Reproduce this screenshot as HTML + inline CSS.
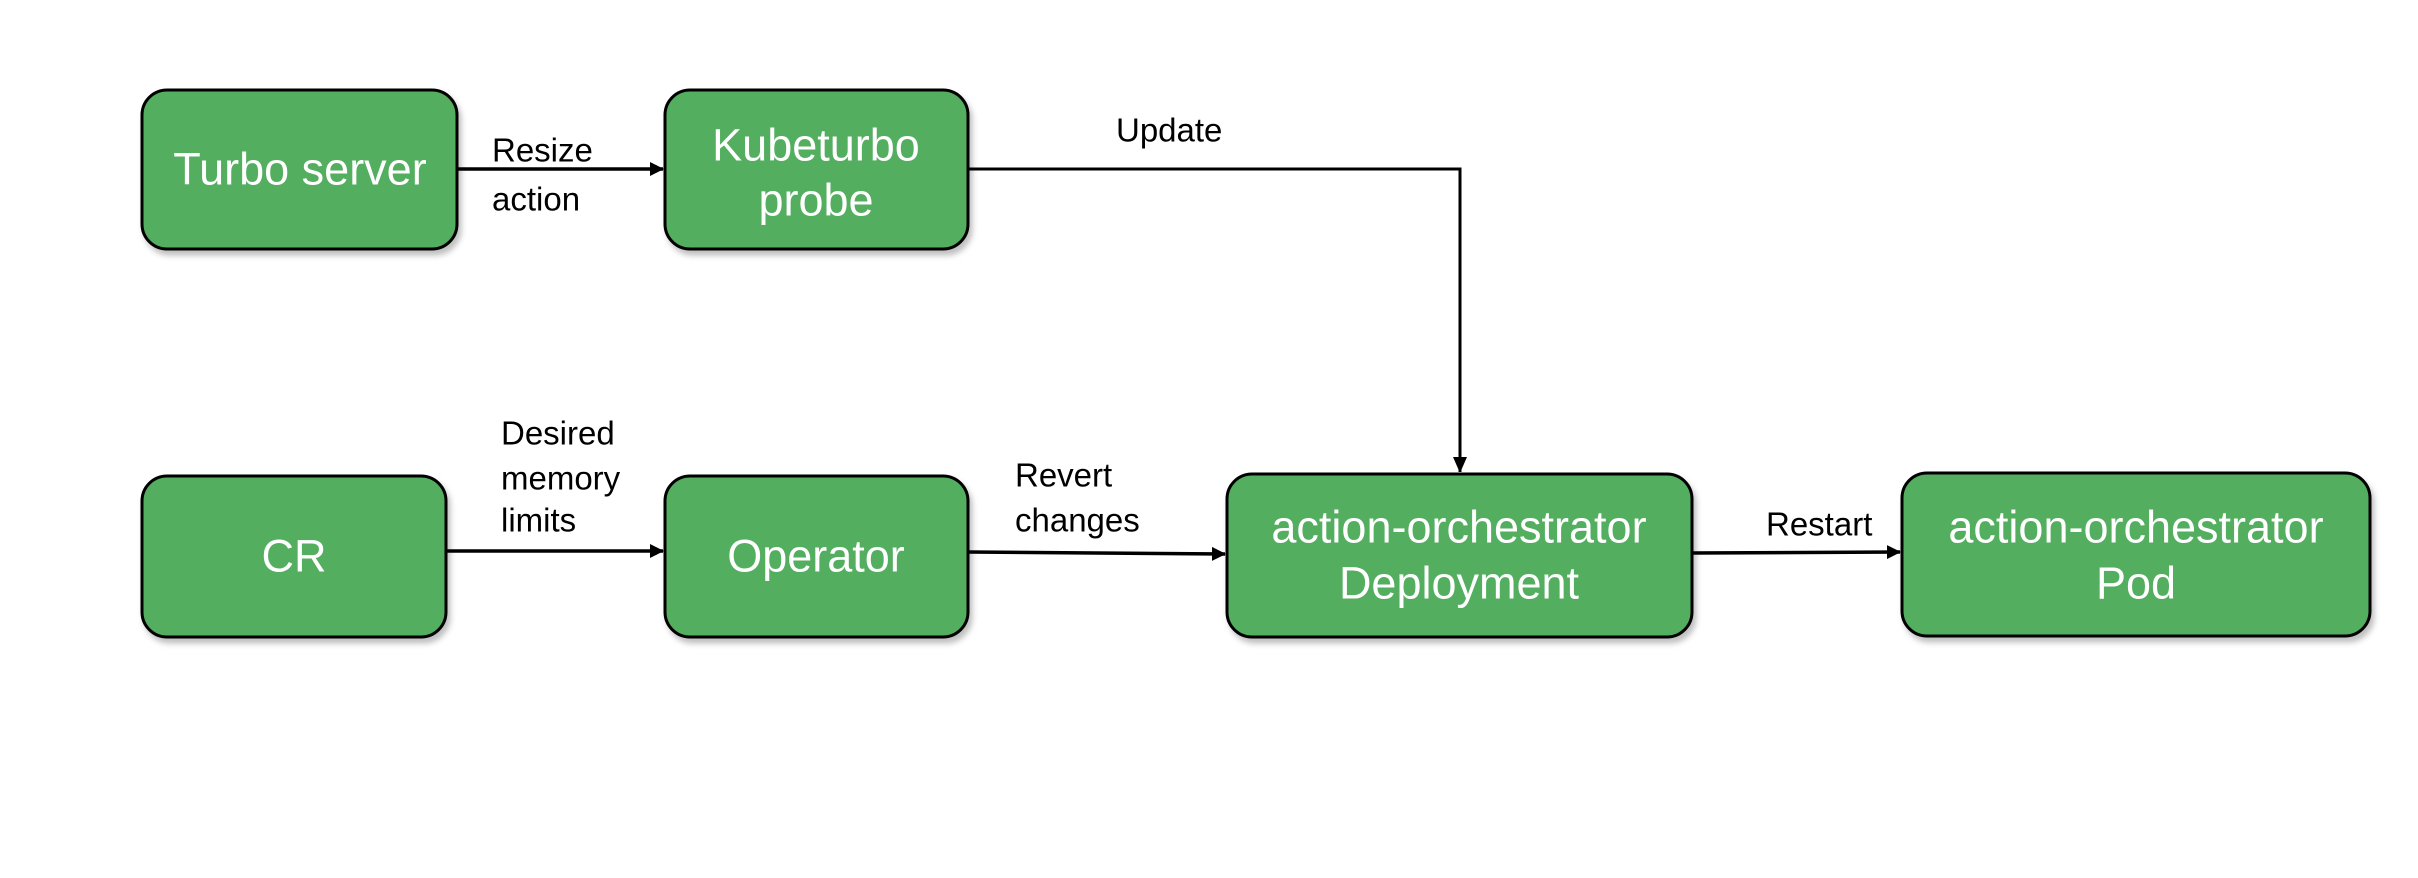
<!DOCTYPE html>
<html><head><meta charset="utf-8"><style>
html,body{margin:0;padding:0;background:#fff;}
svg{display:block;}
text{font-family:"Liberation Sans",sans-serif;}
.b{font-size:45px;fill:#fff;text-anchor:middle;dominant-baseline:central;}
.l{font-size:33px;fill:#000;dominant-baseline:central;}
</style></head><body>
<svg width="2418" height="878" viewBox="0 0 2418 878" xmlns="http://www.w3.org/2000/svg">
<defs>
<filter id="s" x="-10%" y="-10%" width="130%" height="130%"><feDropShadow dx="3" dy="5" stdDeviation="3" flood-color="#000" flood-opacity="0.25"/></filter>
<marker id="a" markerWidth="14" markerHeight="14" refX="13" refY="7" orient="auto" markerUnits="userSpaceOnUse"><path d="M0,0 L14,7 L0,14 z" fill="#000"/></marker>
<marker id="a2" markerWidth="14" markerHeight="16" refX="15" refY="7" orient="auto" markerUnits="userSpaceOnUse"><path d="M0,0 L16,7 L0,14 z" fill="#000"/></marker>
</defs>
<g fill="#52ae5e" stroke="#000" stroke-width="3" filter="url(#s)">
<rect x="142" y="90" width="315" height="159" rx="25"/>
<rect x="665" y="90" width="303" height="159" rx="25"/>
<rect x="142" y="476" width="304" height="161" rx="25"/>
<rect x="665" y="476" width="303" height="161" rx="25"/>
<rect x="1227" y="474" width="465" height="163" rx="25"/>
<rect x="1902" y="473" width="468" height="163" rx="25"/>
</g>
<g stroke="#000" stroke-width="3.5" fill="none">
<path d="M457 169 H663" marker-end="url(#a)"/>
<path d="M968 169 H1460 V472" stroke-width="3" marker-end="url(#a2)"/>
<path d="M446 551 H663" marker-end="url(#a)"/>
<path d="M968 552 L1225 554" marker-end="url(#a)"/>
<path d="M1692 553 L1900 552" marker-end="url(#a)"/>
</g>
<text class="b" x="300" y="169">Turbo server</text>
<text class="b" x="816" y="145">Kubeturbo</text>
<text class="b" x="816" y="200">probe</text>
<text class="b" x="294" y="556">CR</text>
<text class="b" x="816" y="556">Operator</text>
<text class="b" x="1459" y="527">action-orchestrator</text>
<text class="b" x="1459" y="583">Deployment</text>
<text class="b" x="2136" y="527">action-orchestrator</text>
<text class="b" x="2136" y="583">Pod</text>
<text class="l" x="492" y="150">Resize</text>
<text class="l" x="492" y="199">action</text>
<text class="l" x="1116" y="130">Update</text>
<text class="l" x="501" y="433">Desired</text>
<text class="l" x="501" y="478">memory</text>
<text class="l" x="501" y="520">limits</text>
<text class="l" x="1015" y="475">Revert</text>
<text class="l" x="1015" y="520">changes</text>
<text class="l" x="1766" y="524">Restart</text>
</svg>
</body></html>
